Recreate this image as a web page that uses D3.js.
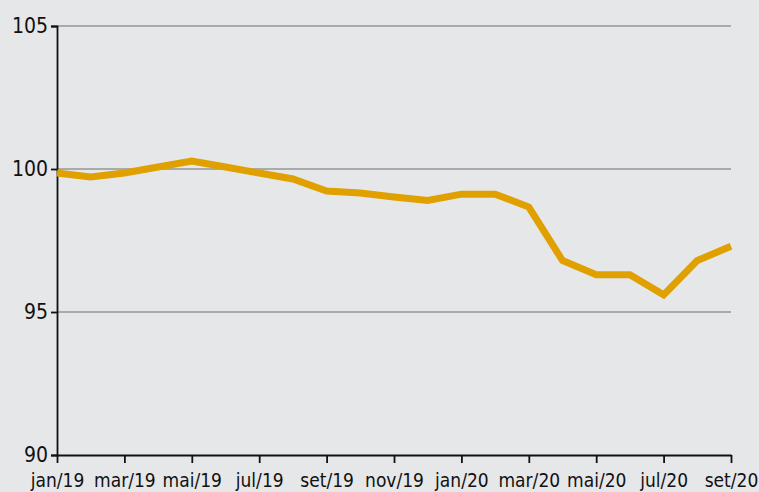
<!DOCTYPE html>
<html>
<head>
<meta charset="utf-8">
<script src="https://cdn.jsdelivr.net/npm/d3@7"></script>
<style>
  body { margin: 0; background: #e6e7e9; }
  svg { display: block; }
  .lbl { font-family: "DejaVu Sans Condensed", "Liberation Sans Narrow", sans-serif; font-stretch: condensed; }
</style>
</head>
<body>
<div id="chart"></div>
<script>
// Dados
const months = ["jan/19","fev/19","mar/19","abr/19","mai/19","jun/19","jul/19","ago/19","set/19","out/19","nov/19","dez/19",
                "jan/20","fev/20","mar/20","abr/20","mai/20","jun/20","jul/20","ago/20","set/20"];
const values = [99.86, 99.72, 99.86, 100.07, 100.28, 100.07, 99.86, 99.65, 99.23, 99.16, 99.02, 98.9,
                99.12, 99.12, 98.67, 96.8, 96.3, 96.3, 95.6, 96.8, 97.3];
const yTicks = [90, 95, 100, 105];
const xTickLabels = months.filter((d, i) => i % 2 === 0);

const width = 759;
const height = 492;
const margin = { top: 26, right: 28, bottom: 37, left: 57 };

const svg = d3.select("#chart")
  .append("svg")
  .attr("width", width)
  .attr("height", height);

const g = svg.append("g")
  .attr("transform", `translate(${margin.left}, ${margin.top})`);

const w = width - margin.left - margin.right;
const h = height - margin.top - margin.bottom;

const x = d3.scalePoint().domain(months).range([0, w]);
const y = d3.scaleLinear().domain([90, 105]).range([h, 0]);

// linhas de grade
g.selectAll(".grid")
  .data(yTicks.filter(d => d > 90))
  .enter()
  .append("line")
  .attr("x1", 0)
  .attr("x2", w)
  .attr("y1", d => y(d))
  .attr("y2", d => y(d))
  .attr("stroke", "#a9aaac")
  .attr("stroke-width", 2);

// eixo Y
const yAxis = g.append("g")
  .call(d3.axisLeft(y).tickValues(yTicks).tickSize(6).tickPadding(3).tickFormat(d3.format("d")));
yAxis.select(".domain").attr("stroke", "#111").attr("stroke-width", 1.8);
yAxis.selectAll(".tick line").attr("stroke", "#111").attr("stroke-width", 1.8);
yAxis.selectAll("text").attr("class", "lbl").attr("font-size", 21).attr("fill", "#111");

// eixo X
const xAxis = g.append("g")
  .attr("transform", `translate(0,${h})`)
  .call(d3.axisBottom(x).tickValues(xTickLabels).tickSize(8).tickSizeOuter(0).tickPadding(11));
xAxis.select(".domain").attr("stroke", "#111").attr("stroke-width", 1.8);
xAxis.selectAll(".tick line").attr("stroke", "#111").attr("stroke-width", 1.8);
xAxis.selectAll("text").attr("class", "lbl").attr("font-size", 19).attr("fill", "#111");

// linha da série
const line = d3.line()
  .x((d, i) => x(months[i]))
  .y(d => y(d));

g.append("path")
  .datum(values)
  .attr("d", line)
  .attr("fill", "none")
  .attr("stroke", "#e0a000")
  .attr("stroke-width", 7)
  .attr("stroke-linejoin", "miter");

// remove a fonte padrão dos eixos para usar a classe
svg.selectAll("g").attr("font-family", null).attr("font-size", null);
</script>
</body>
</html>
